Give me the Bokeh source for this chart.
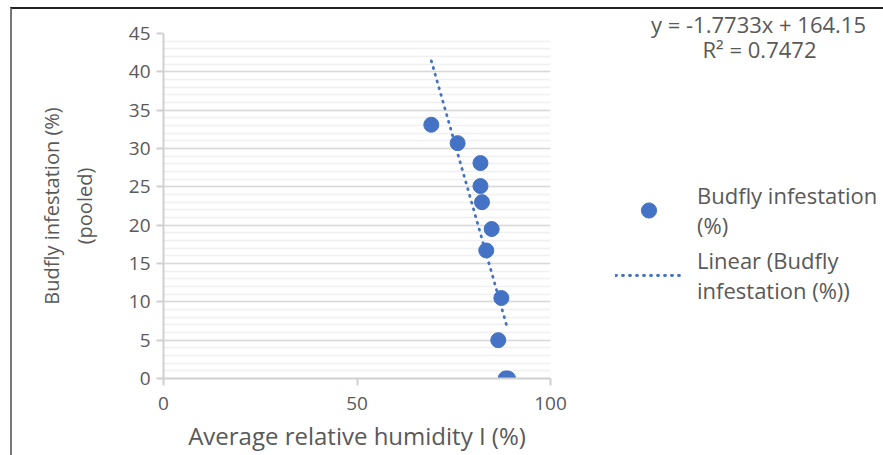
from bokeh.plotting import figure
from bokeh.layouts import row
from bokeh.models import (Range1d, SingleIntervalTicker, FixedTicker, Legend, LegendItem, Label)
from bokeh.embed import file_html
from bokeh.resources import INLINE

# Data
humidity = [69.2, 76.0, 81.9, 81.9, 82.3, 84.8, 83.4, 87.3, 86.5, 88.4, 89.0]
infestation = [33.1, 30.7, 28.1, 25.1, 23.0, 19.5, 16.7, 10.5, 5.0, 0.0, 0.0]
slope = -1.7733
intercept = 164.15
r2 = 0.7472
x_ticks = [0, 50, 100]

BLUE = "#4472C4"
GREY = "#595959"
FONT = "Open Sans"
DASH = "1 6"
NAN = float("nan")

trend_x = [min(humidity), max(humidity)]
trend_y = [slope * v + intercept for v in trend_x]

p = figure(width=568, height=446, output_backend="svg", toolbar_location=None,
           x_range=Range1d(0, 100), y_range=Range1d(0, 45),
           min_border_left=151, min_border_right=30, min_border_top=24, min_border_bottom=77)
p.outline_line_color = None
p.frame_align = False

sc = p.scatter(humidity, infestation, size=15, color=BLUE, line_color=BLUE)
tl = p.line(trend_x, trend_y, line_color=BLUE, line_width=2.8, line_dash=DASH, line_cap="round")

p.xaxis.ticker = FixedTicker(ticks=x_ticks)
p.yaxis.ticker = SingleIntervalTicker(interval=5, num_minor_ticks=5)
for ax in (p.xaxis[0], p.yaxis[0]):
    ax.axis_line_color = "#d0d0d0"
    ax.axis_line_width = 2
    ax.major_tick_line_color = "#d0d0d0"
    ax.major_tick_line_width = 2
    ax.major_tick_in = 0
    ax.major_tick_out = 7
    ax.minor_tick_line_color = None
    ax.major_label_text_font = FONT
    ax.major_label_text_font_size = "19px"
    ax.major_label_text_color = GREY
    ax.axis_label_text_font = FONT
    ax.axis_label_text_color = GREY
    ax.axis_label_text_font_style = "normal"

p.xaxis.axis_label = "Average relative humidity I (%)"
p.xaxis.axis_label_text_font_size = "24px"
p.xaxis.major_label_standoff = 11
p.xaxis.axis_label_standoff = 6
p.yaxis.axis_label = "Budfly infestation (%)\n(pooled)"
p.yaxis.axis_label_text_font_size = "20px"
p.yaxis.major_label_standoff = 6
p.yaxis.axis_label_standoff = 28

p.xgrid.grid_line_color = None
p.ygrid.grid_line_color = "#d9d9d9"
p.ygrid.grid_line_width = 1.5
p.ygrid.minor_grid_line_color = "#f0f0f0"
p.ygrid.minor_grid_line_width = 1.5

# Side panel holding the legend and the trendline equation
p2 = figure(width=303, height=446, output_backend="svg", toolbar_location=None,
            x_range=Range1d(0, 303), y_range=Range1d(0, 446),
            min_border_left=0, min_border_right=0, min_border_top=0, min_border_bottom=0)
p2.frame_align = False
p2.axis.visible = False
p2.grid.visible = False
p2.outline_line_color = None

lg_sc = p2.scatter([NAN], [NAN], size=15, color=BLUE, line_color=BLUE)
lg_tl = p2.line([NAN, NAN], [NAN, NAN], line_color=BLUE, line_width=2.8, line_dash=DASH, line_cap="round")

legend = Legend(items=[LegendItem(label="Budfly infestation\n(%)", renderers=[lg_sc]),
                       LegendItem(label="Linear (Budfly\ninfestation (%))", renderers=[lg_tl])],
                location=(35, 150), border_line_color=None, background_fill_alpha=0,
                label_text_font=FONT, label_text_font_size="22px", label_text_color=GREY,
                glyph_width=67, glyph_height=38, label_standoff=15, padding=0, margin=0, spacing=5)
p2.add_layout(legend, "center")

eq = Label(x=178, y=432, x_units="screen", y_units="screen",
           text=f"y = {slope}x + {intercept}", text_align="center", text_baseline="middle",
           text_font=FONT, text_font_size="22px", text_color=GREY)
rr = Label(x=179, y=407, x_units="screen", y_units="screen",
           text=f"R² = {r2}", text_align="center", text_baseline="middle",
           text_font=FONT, text_font_size="22px", text_color=GREY)
p2.add_layout(eq)
p2.add_layout(rr)

layout = row(p, p2)
layout.styles = {"margin-top": "7px", "margin-left": "10px",
                 "border-top": "2px solid #222", "border-left": "2px solid #777"}

open("out.html", "w").write(file_html(layout, INLINE))
